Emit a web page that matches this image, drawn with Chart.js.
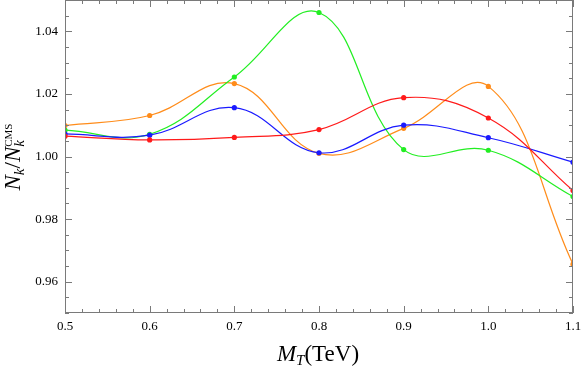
<!DOCTYPE html>
<html>
<head>
<meta charset="utf-8">
<script src="https://cdn.jsdelivr.net/npm/chart.js@4"></script>
<style>
  html, body { margin: 0; padding: 0; background: #fff; }
  #wrap { width: 581px; height: 370px; }
</style>
</head>
<body>
<div id="wrap"><canvas id="chart" width="581" height="370"></canvas></div>
<script>
// data
const mtValues = [0.5, 0.6, 0.7, 0.8, 0.9, 1.0, 1.1];
const redSeries = [1.0065, 1.0053, 1.0061, 1.0086, 1.0188, 1.0123, 0.9891];
const blueSeries = [1.0072, 1.0068, 1.0156, 1.0012, 1.0100, 1.0060, 0.9982];
const greenSeries = [1.0084, 1.0071, 1.0254, 1.0460, 1.0022, 1.0020, 0.9872];
const orangeSeries = [1.0099, 1.0131, 1.0233, 1.0010, 1.0090, 1.0224, 0.9656];
const xTicks = [0.5, 0.6, 0.7, 0.8, 0.9, 1.0, 1.1];
const yTicks = [0.96, 0.98, 1.00, 1.02, 1.04];

const frameColor = '#7a7a7a';
const serif = '"Liberation Serif", "DejaVu Serif", serif';

function toPoints(ys) {
    return mtValues.map((x, i) => ({ x: x, y: ys[i] }));
}

function makeSet(ys, color) {
    return {
        data: toPoints(ys),
        borderColor: color,
        backgroundColor: color,
        borderWidth: 1.2,
        pointRadius: 2.6,
        pointBorderWidth: 0,
        tension: 0.4,
        fill: false
    };
}

// khung, vạch chia hướng vào trong, tên trục
const framePlugin = {
    id: 'frame',
    afterDraw(chart) {
        const ctx = chart.ctx;
        const a = chart.chartArea;
        const xs = chart.scales.x;
        const ys = chart.scales.y;
        ctx.save();
        ctx.strokeStyle = frameColor;
        ctx.lineWidth = 1;
        ctx.strokeRect(a.left + 0.5, a.top + 0.5, a.right - a.left - 1, a.bottom - a.top - 1);

        ctx.beginPath();
        for (let v = 0.5; v <= 1.1001; v += 0.02) {
            const major = Math.abs(v * 10 - Math.round(v * 10)) < 1e-6;
            const len = major ? 7 : 4;
            const px = Math.round(xs.getPixelForValue(v)) + 0.5;
            ctx.moveTo(px, a.bottom); ctx.lineTo(px, a.bottom - len);
            ctx.moveTo(px, a.top); ctx.lineTo(px, a.top + len);
        }
        for (let v = 0.95; v <= 1.0501; v += 0.005) {
            const major = Math.abs(v * 50 - Math.round(v * 50)) < 1e-6;
            const len = major ? 7 : 4;
            const py = Math.round(ys.getPixelForValue(v)) + 0.5;
            ctx.moveTo(a.left, py); ctx.lineTo(a.left + len, py);
            ctx.moveTo(a.right, py); ctx.lineTo(a.right - len, py);
        }
        ctx.stroke();

        // x title: M_T(TeV)
        ctx.fillStyle = '#000';
        ctx.textBaseline = 'alphabetic';
        const big = 23, small = 15;
        const parts = [
            { t: 'M', f: 'italic ' + big + 'px ' + serif, dy: 0 },
            { t: 'T', f: 'italic ' + small + 'px ' + serif, dy: 4 },
            { t: '(TeV)', f: big + 'px ' + serif, dy: 0 }
        ];
        let total = 0;
        parts.forEach(p => { ctx.font = p.f; p.w = ctx.measureText(p.t).width; total += p.w; });
        let x0 = 318 - total / 2;
        const base = 361;
        parts.forEach(p => { ctx.font = p.f; ctx.fillText(p.t, x0, base + p.dy); x0 += p.w; });

        // y title: N_k/N_k^CMS
        ctx.translate(20, 157);
        ctx.rotate(-Math.PI / 2);
        const yParts = [
            { t: 'N', f: 'italic ' + big + 'px ' + serif, dy: 0 },
            { t: 'k', f: 'italic ' + small + 'px ' + serif, dy: 4 },
            { t: '/', f: big + 'px ' + serif, dy: 0 },
            { t: 'N', f: 'italic ' + big + 'px ' + serif, dy: 0 }
        ];
        let yw = 0;
        yParts.forEach(p => { ctx.font = p.f; p.w = ctx.measureText(p.t).width; yw += p.w; });
        ctx.font = 'italic ' + small + 'px ' + serif;
        const kw = ctx.measureText('k').width;
        ctx.font = '11px ' + serif;
        const cmsW = ctx.measureText('CMS').width;
        yw += Math.max(kw, cmsW);
        let y0 = -yw / 2;
        yParts.forEach(p => { ctx.font = p.f; ctx.fillText(p.t, y0, p.dy); y0 += p.w; });
        ctx.font = 'italic ' + small + 'px ' + serif;
        ctx.fillText('k', y0, 4);
        ctx.font = '11px ' + serif;
        ctx.fillText('CMS', y0, -8);
        ctx.restore();
    }
};

const ctx = document.getElementById('chart').getContext('2d');
const chart = new Chart(ctx, {
    type: 'line',
    data: {
        datasets: [
            makeSet(redSeries, '#ff1a1a'),
            makeSet(blueSeries, '#1a1aff'),
            makeSet(greenSeries, '#22ee22'),
            makeSet(orangeSeries, '#ff8c1a')
        ]
    },
    options: {
        responsive: false,
        animation: false,
        layout: { autoPadding: false, padding: { top: 0, right: 8, left: 0, bottom: 0 } },
        plugins: { legend: { display: false }, tooltip: { enabled: false } },
        scales: {
            x: {
                type: 'linear',
                min: 0.5,
                max: 1.1,
                grid: { display: false, drawTicks: false },
                border: { display: false },
                afterBuildTicks: s => { s.ticks = xTicks.map(v => ({ value: v })); },
                afterFit: s => {
                    s.height = 57;
                    s.paddingLeft = 0; s.paddingRight = 0;
                    s.paddingTop = 0; s.paddingBottom = 0;
                },
                ticks: {
                    padding: 6,
                    color: '#000',
                    maxRotation: 0,
                    font: { family: serif, size: 13 },
                    callback: v => v.toFixed(1)
                }
            },
            y: {
                type: 'linear',
                min: 0.95,
                max: 1.05,
                grid: { display: false, drawTicks: false },
                border: { display: false },
                afterBuildTicks: s => { s.ticks = yTicks.map(v => ({ value: v })); },
                afterFit: s => {
                    s.width = 65;
                    s.paddingLeft = 0; s.paddingRight = 0;
                    s.paddingTop = 0; s.paddingBottom = 0;
                },
                ticks: {
                    padding: 7,
                    color: '#000',
                    font: { family: serif, size: 13 },
                    callback: v => v.toFixed(2)
                }
            }
        }
    },
    plugins: [framePlugin]
});
</script>
</body>
</html>
